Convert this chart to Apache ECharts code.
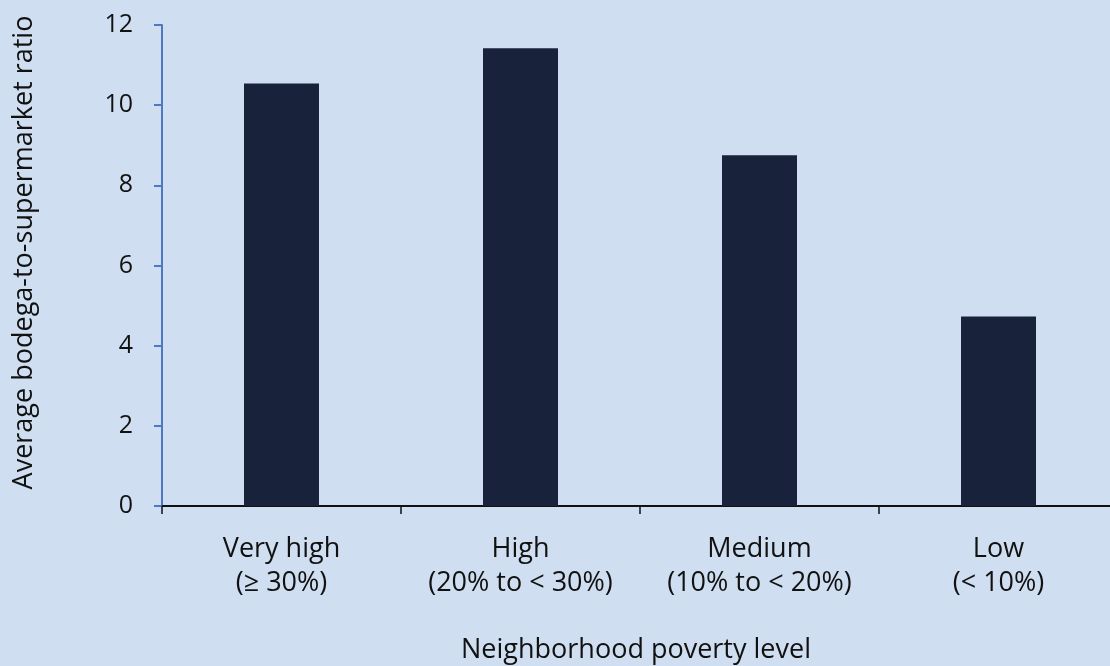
<!DOCTYPE html>
<html>
<head>
<meta charset="utf-8">
<script src="https://cdn.jsdelivr.net/npm/echarts@6/dist/echarts.min.js"></script>
<style>
  html, body { margin: 0; padding: 0; background: #cfdff1; }
  #chart { width: 1110px; height: 666px; }
</style>
</head>
<body>
<div id="chart"></div>
<script>
// Poverty-level categories (two-line labels)
const categories = [
  'Very high\n(≥ 30%)',
  'High\n(20% to < 30%)',
  'Medium\n(10% to < 20%)',
  'Low\n(< 10%)'
];
// Average bodega-to-supermarket ratio per category
const ratios = [10.54, 11.42, 8.75, 4.73];
// Value axis ticks
const yMin = 0;
const yMax = 12;
const yStep = 2;

const font = '"Open Sans", Lato, sans-serif';
const chart = echarts.init(document.getElementById('chart'), null, { renderer: 'canvas' });

chart.setOption({
  backgroundColor: '#cfdff1',
  animation: false,
  grid: {
    left: 162, top: 25, width: 956, height: 481,
    containLabel: false,
    outerBoundsMode: 'none'
  },
  xAxis: {
    type: 'category',
    data: categories,
    name: 'Neighborhood poverty level',
    nameLocation: 'middle',
    nameGap: 131,
    nameTextStyle: { fontFamily: font, fontSize: 27, color: '#111', padding: [0, 8, 0, 0] },
    axisLine: { lineStyle: { color: '#111', width: 2 } },
    axisTick: { show: true, alignWithLabel: false, length: 8, lineStyle: { color: '#111', width: 1.5 } },
    axisLabel: { fontFamily: font, fontSize: 27, color: '#111', lineHeight: 34, margin: 26, interval: 0 },
    splitLine: { show: false }
  },
  yAxis: {
    type: 'value',
    min: yMin,
    max: yMax,
    interval: yStep,
    name: 'Average bodega-to-supermarket ratio',
    nameLocation: 'middle',
    nameGap: 124,
    nameRotate: 90,
    nameTextStyle: { fontFamily: font, fontSize: 27, color: '#111', padding: [0, 0, 0, 26] },
    axisLine: { show: true, lineStyle: { color: '#4f78c4', width: 2 } },
    axisTick: { show: true, length: 8, lineStyle: { color: '#4f78c4', width: 2 } },
    axisLabel: { fontFamily: font, fontSize: 25, color: '#111', margin: 29 },
    splitLine: { show: false }
  },
  series: [{
    type: 'bar',
    data: ratios,
    barWidth: 75,
    itemStyle: { color: '#18233b' }
  }]
});
</script>
</body>
</html>
